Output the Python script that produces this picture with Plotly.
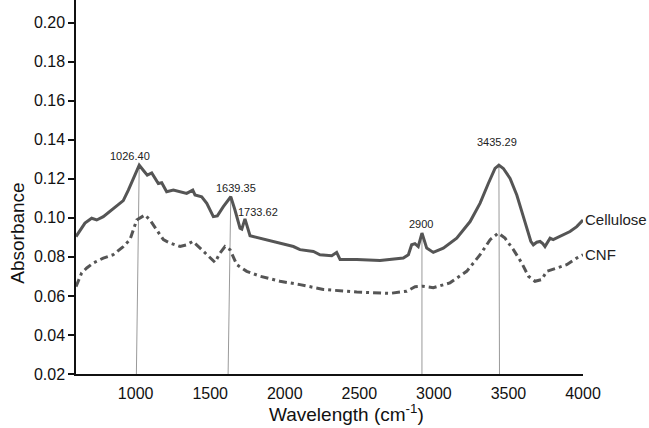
import plotly.graph_objects as go

# ---------------- data ----------------
cell_wn = [600, 620, 660, 705, 739, 783, 828, 873, 917, 951, 984, 1024, 1051, 1078, 1108, 1130,
           1152, 1175, 1208, 1253, 1298, 1342, 1383, 1398, 1443, 1477, 1521, 1548, 1588, 1638,
           1666, 1700, 1712, 1733, 1767, 1834, 1923, 1968, 2058, 2102, 2192, 2236, 2315, 2348,
           2371, 2483, 2639, 2795, 2829, 2851, 2873, 2895, 2920, 2952, 2996, 3063, 3153, 3243,
           3310, 3365, 3410, 3436, 3466, 3511, 3556, 3600, 3634, 3650, 3667, 3690, 3712, 3730,
           3745, 3779, 3800, 3846, 3880, 3913, 3958, 4000]
cell_ab = [0.0904, 0.0925, 0.0973, 0.0998, 0.0989, 0.1006, 0.1032, 0.1058, 0.1088, 0.1142, 0.1202,
           0.1270, 0.1244, 0.1219, 0.1230, 0.1202, 0.1176, 0.1180, 0.1134, 0.1142, 0.1134, 0.1125,
           0.1142, 0.1117, 0.1108, 0.1074, 0.1006, 0.1010, 0.1057, 0.1108, 0.1040, 0.0947, 0.0942,
           0.0995, 0.0908, 0.0896, 0.0879, 0.0871, 0.0853, 0.0837, 0.0828, 0.0811, 0.0806, 0.0823,
           0.0786, 0.0786, 0.0782, 0.0794, 0.0811, 0.0862, 0.0868, 0.0853, 0.0922, 0.0845, 0.0823,
           0.0845, 0.0896, 0.0981, 0.1075, 0.1176, 0.1253, 0.1270, 0.1253, 0.1202, 0.1117, 0.1006,
           0.0913, 0.0880, 0.0862, 0.0875, 0.0879, 0.0868, 0.0853, 0.0896, 0.0888, 0.0904, 0.0918,
           0.0930, 0.0955, 0.0989]

cnf_wn = [600, 638, 672, 716, 783, 850, 917, 962, 1007, 1063, 1096, 1141, 1186, 1230, 1298, 1342,
          1383, 1432, 1487, 1532, 1566, 1599, 1633, 1678, 1745, 1834, 1968, 2035, 2102, 2259,
          2483, 2706, 2818, 2874, 2925, 2996, 3108, 3220, 3310, 3377, 3432, 3477, 3533, 3589,
          3634, 3678, 3723, 3757, 3824, 3891, 3958, 4000]
cnf_ab = [0.0648, 0.0718, 0.0743, 0.0769, 0.0794, 0.0811, 0.0853, 0.0888, 0.0989, 0.1015, 0.0989,
          0.0939, 0.0888, 0.0871, 0.0853, 0.0862, 0.0879, 0.0845, 0.0803, 0.0772, 0.0820, 0.0853,
          0.0837, 0.0760, 0.0726, 0.0701, 0.0675, 0.0667, 0.0658, 0.0633, 0.0620, 0.0613, 0.0624,
          0.0647, 0.0650, 0.0642, 0.0667, 0.0726, 0.0811, 0.0888, 0.0922, 0.0896, 0.0837, 0.0769,
          0.0701, 0.0675, 0.0684, 0.0726, 0.0743, 0.0760, 0.0794, 0.0811]

# peak markers: label, peak position, peak height, foot position on the x axis
peak_labels = ["1026.40", "1639.35", "2900", "3435.29"]
peak_top_wn = [1024, 1638, 2920, 3436]
peak_top_ab = [0.1270, 0.1108, 0.0922, 0.1270]
peak_foot_wn = [1005, 1620, 2920, 3440]

# extra peak label without a guide line
extra_label = "1733.62"

x_ticks = [1000, 1500, 2000, 2500, 3000, 3500, 4000]
y_ticks = [0.02, 0.04, 0.06, 0.08, 0.10, 0.12, 0.14, 0.16, 0.18, 0.20]

series_names = ["Cellulose", "CNF"]

# ---------------- figure ----------------
FONT = "Liberation Sans, Arial, sans-serif"
CURVE = "#555555"

fig = go.Figure()

# guide lines (drawn first so curves sit on top)
for tw, ta, fw in zip(peak_top_wn, peak_top_ab, peak_foot_wn):
    fig.add_trace(go.Scatter(x=[tw, fw], y=[ta, 0.02], mode="lines",
                             line=dict(color="#9a9a9a", width=1), hoverinfo="skip",
                             showlegend=False))

fig.add_trace(go.Scatter(x=cell_wn, y=cell_ab, mode="lines", name=series_names[0],
                         line=dict(color=CURVE, width=3), showlegend=False))
fig.add_trace(go.Scatter(x=cnf_wn, y=cnf_ab, mode="lines", name=series_names[1],
                         line=dict(color=CURVE, width=3, dash="8px,4px,3px,4px"),
                         showlegend=False))

# peak labels
label_pos = [(960, 0.1315), (1673, 0.1152), (2912, 0.0966), (3424, 0.1390)]
for txt, (lx, ly) in zip(peak_labels, label_pos):
    fig.add_annotation(x=lx, y=ly, text=txt, showarrow=False,
                       font=dict(family=FONT, size=11, color="#222"),
                       xanchor="center", yanchor="middle")
fig.add_annotation(x=1823, y=0.1032, text=extra_label, showarrow=False,
                   font=dict(family=FONT, size=11, color="#222"),
                   xanchor="center", yanchor="middle")

# series labels at the right end
fig.add_annotation(x=cell_wn[-1], y=cell_ab[-1], text=series_names[0], showarrow=False,
                   xanchor="left", yanchor="middle", xshift=0,
                   font=dict(family=FONT, size=15, color="#222"))
fig.add_annotation(x=cnf_wn[-1], y=cnf_ab[-1], text=series_names[1], showarrow=False,
                   xanchor="left", yanchor="middle", xshift=0,
                   font=dict(family=FONT, size=15, color="#222"))

# axis titles
fig.add_annotation(xref="paper", yref="paper", x=0, y=0.375, xshift=-58,
                   text="Absorbance", textangle=-90, showarrow=False,
                   xanchor="center", yanchor="middle",
                   font=dict(family=FONT, size=19, color="#111"))
fig.add_annotation(xref="paper", yref="paper", x=0.5, y=0, xshift=17, yshift=-39,
                   text="Wavelength (cm<sup>-1</sup>)", showarrow=False,
                   xanchor="center", yanchor="middle",
                   font=dict(family=FONT, size=19, color="#111"))

fig.update_layout(
    width=649, height=428,
    margin=dict(l=76, r=66, t=0, b=54),
    paper_bgcolor="white", plot_bgcolor="white",
    font=dict(family=FONT, color="#111"),
    xaxis=dict(range=[600, 4000], tickvals=x_ticks, ticks="", showgrid=False,
               zeroline=False, showline=True, linecolor="#111", linewidth=1.5,
               tickfont=dict(size=16, family=FONT), ticklabelstandoff=4),
    yaxis=dict(range=[0.02, 0.2116], tickvals=y_ticks, tickformat=".2f", ticks="outside",
               ticklen=6, tickcolor="#111", tickwidth=1.5, showgrid=False, zeroline=False,
               showline=True, linecolor="#111", linewidth=1.5,
               tickfont=dict(size=16, family=FONT)),
)

fig.write_html("out.html", config={"displayModeBar": False},
               post_script="document.body.style.margin='0';document.body.style.overflow='hidden';")
